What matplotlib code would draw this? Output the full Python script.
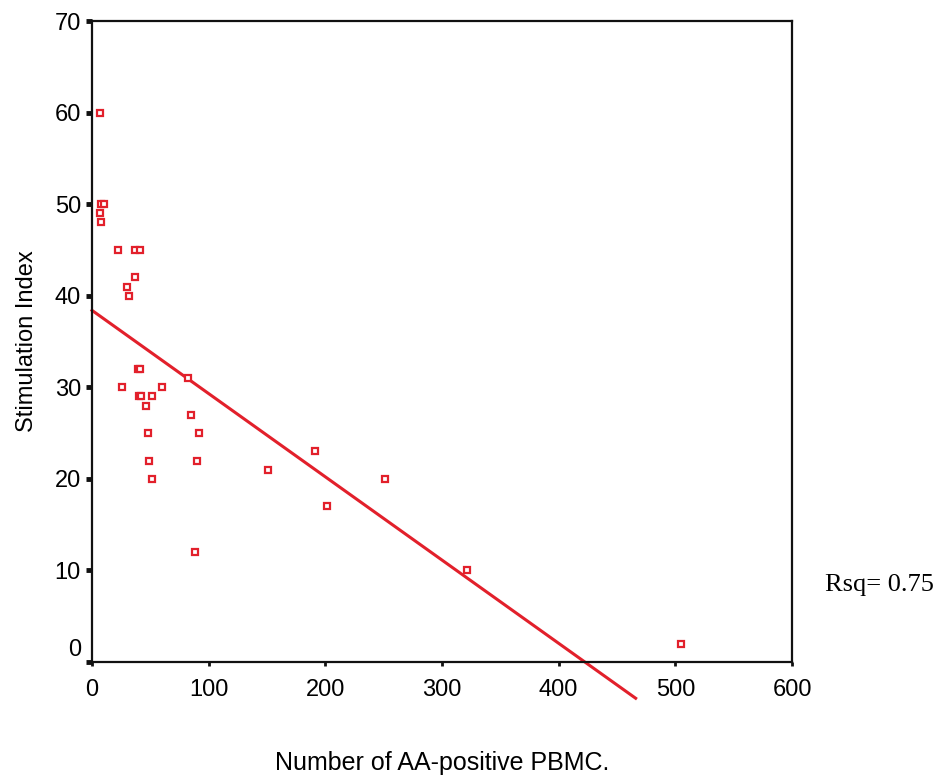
import matplotlib
matplotlib.use("Agg")
import matplotlib.pyplot as plt
from matplotlib.transforms import ScaledTranslation

# Data
aa_positive_pbmc = [7, 8, 10, 7, 8,
                    22, 37, 41, 37, 30, 32,
                    39, 41, 82, 26, 40, 42, 51, 60, 46, 85,
                    48, 92, 49, 90, 151, 51, 88,
                    191, 251, 201, 321, 505]
stimulation_index = [60, 50, 50, 49, 48,
                     45, 45, 45, 42, 41, 40,
                     32, 32, 31, 30, 29, 29, 29, 30, 28, 27,
                     25, 25, 22, 22, 21, 20, 12,
                     23, 20, 17, 10, 2]

# Fitted regression line
fit_intercept = 38.4
fit_slope = -0.0909
fit_x_range = [0, 466]
rsq_label = "Rsq= 0.75"

x_ticks = [0, 100, 200, 300, 400, 500, 600]
y_ticks = [0, 10, 20, 30, 40, 50, 60, 70]

red = "#e2202b"

fig = plt.figure(figsize=(9.44, 7.78), dpi=100)
ax = fig.add_axes([92/944, 1 - 662/778, 700/944, 641/778])

ax.plot(aa_positive_pbmc, stimulation_index, linestyle="none", marker="s",
        markersize=5.0, markerfacecolor="white", markeredgecolor=red,
        markeredgewidth=1.6, zorder=3, clip_on=False)

fx = fit_x_range
fy = [fit_intercept + fit_slope * v for v in fx]
ax.plot(fx, fy, color=red, linewidth=2.2, clip_on=False, zorder=2)

ax.set_xlim(0, 600)
ax.set_ylim(0, 70)
ax.set_xticks(x_ticks)
ax.set_yticks(y_ticks)

font = "Liberation Sans"
ax.set_xticklabels([str(v) for v in x_ticks], fontsize=17, fontfamily=font)
ax.set_yticklabels([str(v) for v in y_ticks], fontsize=17, fontfamily=font)
ax.tick_params(axis="y", direction="out", length=4, width=3.5, pad=4, color="#111111")
ax.tick_params(axis="x", direction="out", length=3, width=2, pad=9, color="#111111")

# the y tick label "0" sits a little above its tick
lab0 = ax.get_yticklabels()[0]
lab0.set_transform(lab0.get_transform() + ScaledTranslation(0, 0.14, fig.dpi_scale_trans))

for s in ax.spines.values():
    s.set_linewidth(1.6)
    s.set_color("#111111")

ax.set_xlabel("Number of AA-positive PBMC.", fontsize=18, fontfamily=font, labelpad=36)
ax.set_ylabel("Stimulation Index", fontsize=17, fontfamily=font, labelpad=12)

fig.text(825/944, 1 - 585/778, rsq_label, fontsize=19, fontfamily="Liberation Serif",
         ha="left", va="center")

fig.savefig("out.png", dpi=100)
